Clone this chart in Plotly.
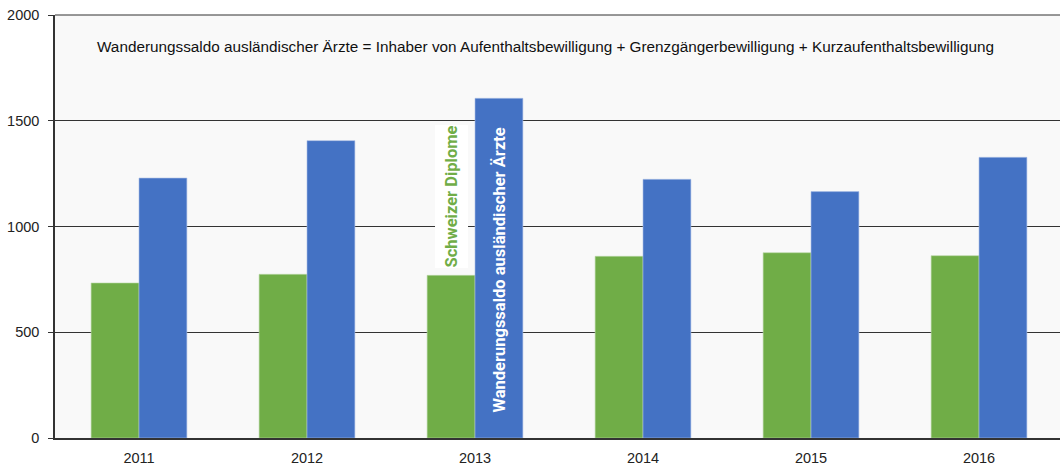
import plotly.graph_objects as go

years = ["2011", "2012", "2013", "2014", "2015", "2016"]
schweizer_diplome = [733, 774, 769, 859, 876, 862]
wanderungssaldo = [1229, 1406, 1606, 1223, 1165, 1327]
y_ticks = [0, 500, 1000, 1500, 2000]

GREEN = "#70ad47"
BLUE = "#4472c4"
DARK = "#333333"
SANS = "Liberation Sans, Arial, sans-serif"

fig = go.Figure()
fig.add_trace(go.Bar(x=years, y=schweizer_diplome, name="Schweizer Diplome",
                     marker=dict(color=GREEN, line=dict(width=0.6, color="#b9d6a6"))))
fig.add_trace(go.Bar(x=years, y=wanderungssaldo, name="Wanderungssaldo ausländischer Ärzte",
                     marker=dict(color=BLUE, line=dict(width=0.6, color="#a9bde6"))))

fig.update_layout(
    width=1060, height=470,
    margin=dict(l=55, r=0, t=15, b=32),
    paper_bgcolor="white",
    plot_bgcolor="#f9f9f9",
    barmode="group",
    bargap=0.43,
    bargroupgap=0,
    showlegend=False,
    font=dict(family=SANS, size=14, color="#222222"),
)
fig.update_xaxes(
    type="category",
    range=[-0.5, 5.482],
    automargin=False,
    showline=True, linecolor=DARK, linewidth=1.5,
    ticks="", showgrid=False,
    ticklabelstandoff=6,
    tickfont=dict(family=SANS, size=14.5),
)
fig.update_yaxes(
    range=[0, 2000],
    tickvals=y_ticks,
    automargin=False,
    showline=True, linecolor=DARK, linewidth=1.5,
    ticks="outside", ticklen=5, tickcolor=DARK,
    showgrid=True, gridcolor=DARK, gridwidth=1,
    ticklabelstandoff=6,
    tickfont=dict(family=SANS, size=14.5),
    zeroline=False,
)

# top frame line of the plot area
fig.add_shape(type="line", xref="paper", yref="paper", x0=0, x1=1, y0=1, y1=1,
              line=dict(color=DARK, width=1.2), layer="above")

fig.add_annotation(
    text="Wanderungssaldo ausländischer Ärzte = Inhaber von Aufenthaltsbewilligung + Grenzgängerbewilligung + Kurzaufenthaltsbewilligung",
    xref="paper", yref="y", x=0.4876, y=1850, showarrow=False,
    font=dict(family=SANS, size=15.3, color="#111111"),
)
fig.add_annotation(
    text="<b>Schweizer Diplome</b>", textangle=-90,
    xref="x", yref="y", x=1.863, y=1142, showarrow=False,
    font=dict(family="Roboto, sans-serif", size=16.5, color=GREEN),
    bgcolor="white", borderpad=0, height=32,
)
fig.add_annotation(
    text="<b>Wanderungssaldo ausländischer Ärzte</b>", textangle=-90,
    xref="x", yref="y", x=2.143, y=792, showarrow=False,
    font=dict(family="Roboto, sans-serif", size=16.5, color="white"),
)

fig.write_html("out.html", config={"displayModeBar": False},
               post_script="document.body.style.margin='0';")
